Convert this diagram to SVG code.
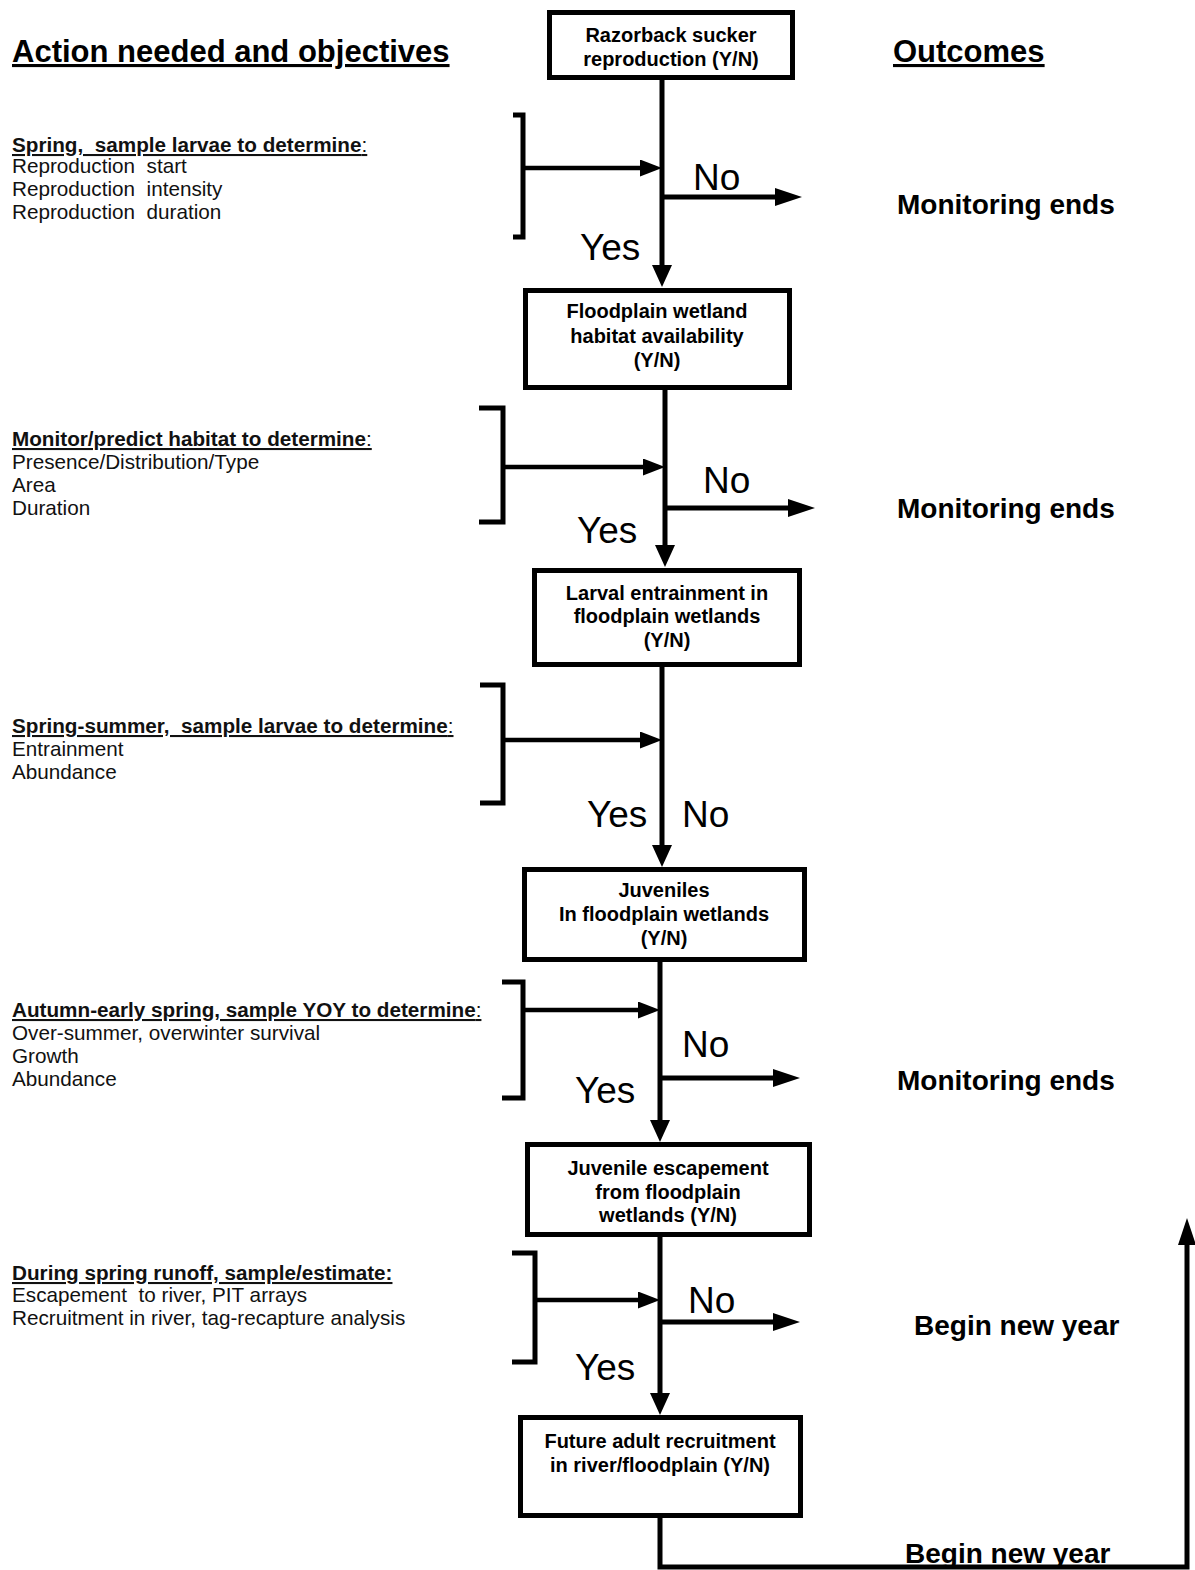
<svg xmlns="http://www.w3.org/2000/svg" width="1195" height="1570" viewBox="0 0 1195 1570">
<style>
  .title { font-family: "Liberation Sans", Arial, sans-serif; font-weight: bold; font-size: 31px; text-decoration: underline; fill: #000; }
  .outcome { font-family: "Liberation Sans", Arial, sans-serif; font-weight: bold; font-size: 28px; fill: #000; }
  .head { font-family: "Liberation Sans", Arial, sans-serif; font-weight: bold; font-size: 20.7px; text-decoration: underline; fill: #111; }
  .body { font-family: "Liberation Sans", Arial, sans-serif; font-size: 20.7px; fill: #111; }
  .colon { font-weight: normal; }
  .yn { font-family: "Liberation Sans", Arial, sans-serif; font-size: 37px; fill: #000; }
  .box { fill: #fff; stroke: #000; stroke-width: 5; }
  .boxtxt { font-family: "Liberation Sans", Arial, sans-serif; font-weight: bold; font-size: 20px; fill: #000; text-anchor: middle; }
  .ln { fill: none; stroke: #000; stroke-width: 5; stroke-linejoin: miter; }
  .ln4 { fill: none; stroke: #000; stroke-width: 4.5; }
  .br { fill: none; stroke: #000; stroke-width: 5; stroke-linejoin: miter; }
</style>
<defs>
  <marker id="arrV" markerUnits="userSpaceOnUse" viewBox="0 0 22 20" markerWidth="22" markerHeight="20" refX="10" refY="10" orient="auto">
    <path d="M0,0 L22,10 L0,20 z" fill="#000"/>
  </marker>
  <marker id="arrIn" markerUnits="userSpaceOnUse" viewBox="0 0 22 17" markerWidth="22" markerHeight="17" refX="10" refY="8.5" orient="auto">
    <path d="M0,0 L22,8.5 L0,17 z" fill="#000"/>
  </marker>
  <marker id="arrNo" markerUnits="userSpaceOnUse" viewBox="0 0 27 18" markerWidth="27" markerHeight="18" refX="13" refY="9" orient="auto">
    <path d="M0,0 L27,9 L0,18 z" fill="#000"/>
  </marker>
</defs>

<!-- Column titles -->
<text class="title" x="12" y="62">Action needed and objectives</text>
<text class="title" x="893" y="62">Outcomes</text>

<!-- Left-side objectives -->
<g id="obj1">
  <text class="head" x="12" y="152" xml:space="preserve">Spring,  sample larvae to determine<tspan class="colon">:</tspan></text>
  <text class="body" x="12" y="173" xml:space="preserve">Reproduction  start</text>
  <text class="body" x="12" y="196" xml:space="preserve">Reproduction  intensity</text>
  <text class="body" x="12" y="219" xml:space="preserve">Reproduction  duration</text>
</g>
<g id="obj2">
  <text class="head" x="12" y="446">Monitor/predict habitat to determine<tspan class="colon">:</tspan></text>
  <text class="body" x="12" y="469">Presence/Distribution/Type</text>
  <text class="body" x="12" y="492">Area</text>
  <text class="body" x="12" y="515">Duration</text>
</g>
<g id="obj3">
  <text class="head" x="12" y="733" xml:space="preserve">Spring-summer,  sample larvae to determine<tspan class="colon">:</tspan></text>
  <text class="body" x="12" y="756">Entrainment</text>
  <text class="body" x="12" y="779">Abundance</text>
</g>
<g id="obj4">
  <text class="head" x="12" y="1017">Autumn-early spring, sample YOY to determine<tspan class="colon">:</tspan></text>
  <text class="body" x="12" y="1040">Over-summer, overwinter survival</text>
  <text class="body" x="12" y="1063">Growth</text>
  <text class="body" x="12" y="1086">Abundance</text>
</g>
<g id="obj5">
  <text class="head" x="12" y="1280">During spring runoff, sample/estimate:</text>
  <text class="body" x="12" y="1302" xml:space="preserve">Escapement  to river, PIT arrays</text>
  <text class="body" x="12" y="1325">Recruitment in river, tag-recapture analysis</text>
</g>

<!-- Flow nodes -->
<g id="n1">
  <rect class="box" x="549.5" y="12.5" width="243" height="65"/>
  <text class="boxtxt" x="671" y="42">Razorback sucker</text>
  <text class="boxtxt" x="671" y="66">reproduction (Y/N)</text>
</g>
<g id="n2">
  <rect class="box" x="525.5" y="290.5" width="264" height="97"/>
  <text class="boxtxt" x="657" y="318">Floodplain wetland</text>
  <text class="boxtxt" x="657" y="343">habitat availability</text>
  <text class="boxtxt" x="657" y="367">(Y/N)</text>
</g>
<g id="n3">
  <rect class="box" x="534.5" y="570.5" width="265" height="94"/>
  <text class="boxtxt" x="667" y="600">Larval entrainment in</text>
  <text class="boxtxt" x="667" y="623">floodplain wetlands</text>
  <text class="boxtxt" x="667" y="647">(Y/N)</text>
</g>
<g id="n4">
  <rect class="box" x="524.5" y="869.5" width="280" height="90"/>
  <text class="boxtxt" x="664" y="897">Juveniles</text>
  <text class="boxtxt" x="664" y="921">In floodplain wetlands</text>
  <text class="boxtxt" x="664" y="945">(Y/N)</text>
</g>
<g id="n5">
  <rect class="box" x="527.5" y="1144.5" width="282" height="90"/>
  <text class="boxtxt" x="668" y="1175">Juvenile escapement</text>
  <text class="boxtxt" x="668" y="1199">from floodplain</text>
  <text class="boxtxt" x="668" y="1222">wetlands (Y/N)</text>
</g>
<g id="n6">
  <rect class="box" x="520.5" y="1417.5" width="280" height="98"/>
  <text class="boxtxt" x="660" y="1448">Future adult recruitment</text>
  <text class="boxtxt" x="660" y="1472">in river/floodplain (Y/N)</text>
</g>

<!-- Outcomes -->
<g id="out1"><text class="outcome" x="897" y="214">Monitoring ends</text></g>
<g id="out2"><text class="outcome" x="897" y="518">Monitoring ends</text></g>
<g id="out4"><text class="outcome" x="897" y="1090">Monitoring ends</text></g>
<g id="out5"><text class="outcome" x="914" y="1335">Begin new year</text></g>
<g id="out6"><text class="outcome" x="905" y="1563">Begin new year</text></g>

<!-- Yes / No labels -->
<g id="labels">
  <text class="yn" x="693" y="190">No</text>
  <text class="yn" x="580" y="260">Yes</text>
  <text class="yn" x="703" y="493">No</text>
  <text class="yn" x="577" y="543">Yes</text>
  <text class="yn" x="587" y="827">Yes</text>
  <text class="yn" x="682" y="827">No</text>
  <text class="yn" x="682" y="1057">No</text>
  <text class="yn" x="575" y="1103">Yes</text>
  <text class="yn" x="688" y="1313">No</text>
  <text class="yn" x="575" y="1380">Yes</text>
</g>

<!-- Connectors -->
<g id="connectors">
  <!-- brackets -->
  <path class="br" d="M513,115 H523 V237 H513"/>
  <path class="br" d="M479,408 H503 V522 H479"/>
  <path class="br" d="M480,685 H503 V803 H480"/>
  <path class="br" d="M502,982 H523 V1098 H502"/>
  <path class="br" d="M512,1253 H535 V1362 H512"/>
  <!-- bracket input arrows -->
  <path class="ln4" d="M523,168 H650" marker-end="url(#arrIn)"/>
  <path class="ln4" d="M503,467 H653" marker-end="url(#arrIn)"/>
  <path class="ln4" d="M503,740 H650" marker-end="url(#arrIn)"/>
  <path class="ln4" d="M523,1010 H648" marker-end="url(#arrIn)"/>
  <path class="ln4" d="M535,1300 H648" marker-end="url(#arrIn)"/>
  <!-- main flow -->
  <path class="ln" d="M662,80 V275" marker-end="url(#arrV)"/>
  <path class="ln" d="M665,390 V555" marker-end="url(#arrV)"/>
  <path class="ln" d="M662,667 V855" marker-end="url(#arrV)"/>
  <path class="ln" d="M660,962 V1130" marker-end="url(#arrV)"/>
  <path class="ln" d="M660,1237 V1403" marker-end="url(#arrV)"/>
  <!-- No branches -->
  <path class="ln" d="M662,197 H788" marker-end="url(#arrNo)"/>
  <path class="ln" d="M665,508 H801" marker-end="url(#arrNo)"/>
  <path class="ln" d="M660,1078 H786" marker-end="url(#arrNo)"/>
  <path class="ln" d="M660,1322 H786" marker-end="url(#arrNo)"/>
  <!-- loop back -->
  <path class="ln" d="M660,1518 V1567 H1187 V1232" marker-end="url(#arrNo)"/>
</g>
</svg>
